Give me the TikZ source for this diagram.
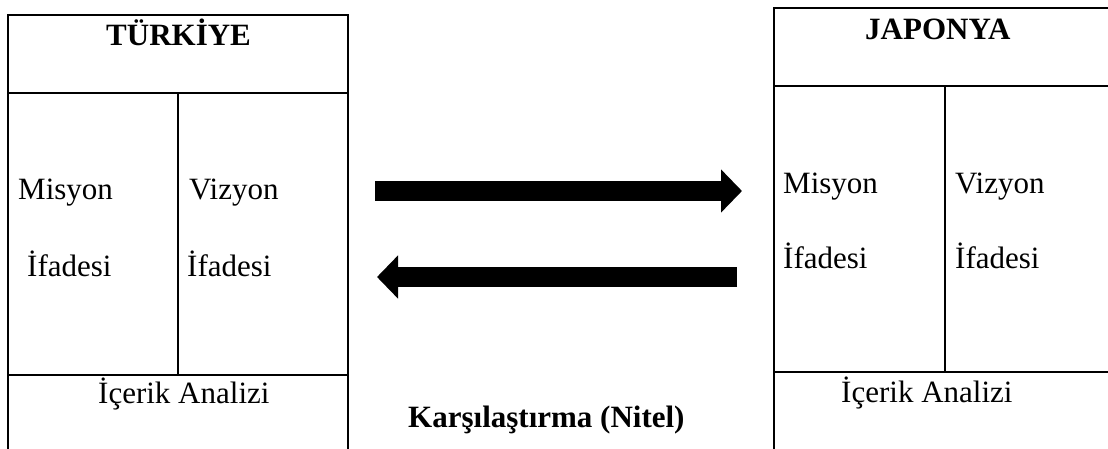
\documentclass[tikz,border=0pt]{standalone}
\usepackage{fontspec}
\setmainfont{Liberation Serif}
\usetikzlibrary{arrows.meta}
\tikzset{
  frame/.style={line width=2pt, draw=black},
  lbl/.style={anchor=base west, inner sep=0pt, font=\fontsize{31}{37}\selectfont},
  ttl/.style={lbl, font=\fontsize{31}{37}\selectfont\bfseries},
  fatarrow/.style={line width=20pt, -{Triangle[length=21pt,width=42pt]}, black}
}
\begin{document}
\begin{tikzpicture}[x=1pt,y=-1pt]
\useasboundingbox (0,0) rectangle (1108,448);
\clip (0,0) rectangle (1108,448);
% left box (Turkiye)
\draw[frame] (8,470) -- (8,15) -- (348,15) -- (348,470);
\draw[frame] (8,93) -- (348,93);
\draw[frame] (8,375) -- (348,375);
\draw[frame] (178,93) -- (178,375);
% right box (Japonya)
\draw[frame] (774,470) -- (774,8) -- (1120,8);
\draw[frame] (774,86) -- (1120,86);
\draw[frame] (774,372) -- (1120,372);
\draw[frame] (945,86) -- (945,372);
% texts
\node[ttl] (tr) at (106,45) {TÜRKİYE};
\node[lbl] (trm1) at (18,199) {Misyon};
\node[lbl] (trm2) at (27,276) {İfadesi};
\node[lbl] (trv1) at (189,199) {Vizyon};
\node[lbl] (trv2) at (187,276) {İfadesi};
\node[lbl] (tri) at (98,403) {İçerik Analizi};
\node[ttl] (jp) at (865,39) {JAPONYA};
\node[lbl] (jpm1) at (783,193) {Misyon};
\node[lbl] (jpm2) at (783,268) {İfadesi};
\node[lbl] (jpv1) at (955,193) {Vizyon};
\node[lbl] (jpv2) at (955,268) {İfadesi};
\node[lbl] (jpi) at (841,402) {İçerik Analizi};
\node[ttl] (cmp) at (408,427) {Karşılaştırma (Nitel)};
% arrows
\coordinate (a1s) at (375,191);
\coordinate (a1e) at (742,191);
\coordinate (a2s) at (737,277);
\coordinate (a2e) at (377,277);
\draw[fatarrow] (a1s) -- (a1e);
\draw[fatarrow] (a2s) -- (a2e);
\end{tikzpicture}
\end{document}
